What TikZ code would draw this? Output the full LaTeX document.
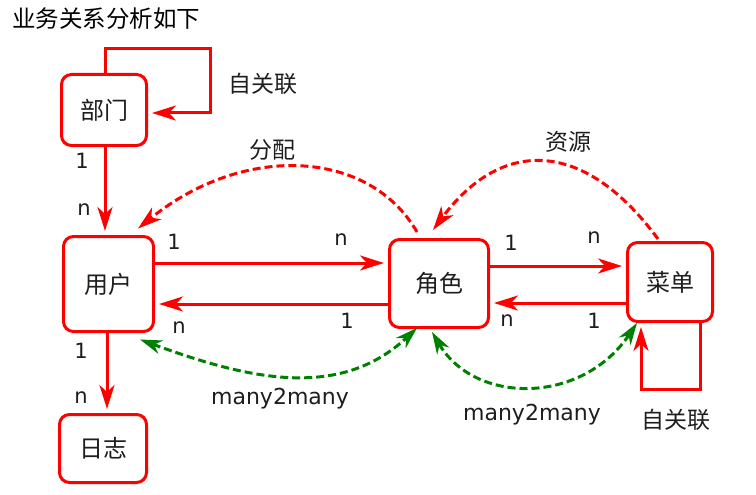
\documentclass[tikz,border=0pt]{standalone}
\usepackage{fontspec}
\setmainfont{DejaVu Sans}
\newfontfamily\cjk{Noto Sans CJK SC}
\usetikzlibrary{arrows.meta,calc}
\definecolor{lred}{RGB}{255,0,0}
\definecolor{lgreen}{RGB}{0,128,0}
\definecolor{txt}{RGB}{30,30,30}
\begin{document}
\begin{tikzpicture}[x=1pt,y=-1pt,
  ent/.style={draw=lred, line width=3pt, rounded corners=10pt, fill=white, text=txt,
    font=\cjk\fontsize{24}{28}\selectfont, inner sep=0pt},
  tip/.style={-{Stealth[length=24pt,width=15pt,inset=7pt]}},
  rel/.style={draw=lred, line width=3pt, tip, shorten >=4pt},
  relcurve/.style={draw=lred, line width=3pt, dash pattern=on 8pt off 4pt, tip},
  mm/.style={draw=lgreen, line width=3pt, dash pattern=on 8pt off 4pt,
    {Stealth[length=22pt,width=14pt,inset=7pt]}-{Stealth[length=22pt,width=14pt,inset=7pt]}},
  lab/.style={text=txt, font=\fontsize{21}{25}\selectfont, inner sep=0pt},
  mlab/.style={text=txt, font=\fontsize{22}{26}\selectfont, inner sep=0pt},
  clab/.style={text=txt, font=\cjk\fontsize{23}{27}\selectfont, inner sep=0pt}]
\fill[white] (0,0) rectangle (756,495);
\useasboundingbox (0,0) rectangle (756,495);

\node[anchor=west, font=\cjk\fontsize{23.5}{28}\selectfont, text=black, inner sep=0pt] (title) at (12,19) {业务关系分析如下};

\node[ent, minimum width=85pt, minimum height=71pt] (bm) at (104,110) {部门};
\node[ent, minimum width=90pt, minimum height=95pt] (yh) at (108.5,284) {用户};
\node[ent, minimum width=99pt, minimum height=88pt] (js) at (439,283.5) {角色};
\node[ent, minimum width=85pt, minimum height=79pt] (cd) at (670,282) {菜单};
\node[ent, minimum width=87pt, minimum height=68pt] (rz) at (103,448.5) {日志};

\coordinate (bmc) at (210,49);
\coordinate (cdc) at (641,389);

% 部门 self loop
\draw[rel] (bm.north -| 105,0) |- (bmc) |- ($(bm.east)+(0,3)$);
% 部门 -> 用户
\draw[rel] (bm.south -| 105,0) -- (yh.north -| 105,0);
% 用户 <-> 角色
\draw[rel] (yh.east |- 0,263) -- (js.west |- 0,263);
\draw[rel] (js.west |- 0,304) -- (yh.east |- 0,304);
% 角色 <-> 菜单
\draw[rel] (js.east |- 0,266) -- (cd.west |- 0,266);
\draw[rel] (cd.west |- 0,303) -- (js.east |- 0,303);
% 用户 -> 日志
\draw[rel] (yh.south -| 107,0) -- (rz.north -| 107,0);
% 菜单 self loop
\draw[rel] (cd.south -| 700,0) |- (cdc) -- (cdc |- cd.south);

% dashed red curves
\draw[relcurve] ($(js.north west)+(29,-6)$) .. controls (370,150) and (245,142) .. ($(yh.north east)+(-17,-6.5)$);
\draw[relcurve] ($(cd.north)+(-12,-2)$) .. controls (582,136) and (500,140) .. ($(js.north)+(-6,-8)$);

% green many2many
\draw[mm] ($(yh.south east)+(-15,6.5)$) .. controls (250,380) and (340,400) .. ($(js.south west)+(29,-1)$);
\draw[mm] ($(js.south)+(-7,3)$) .. controls (475,405) and (582,405) .. ($(cd.south west)+(11,0)$);

% labels
\node[clab] (l1) at (263,84) {自关联};
\node[clab] (l2) at (272,150) {分配};
\node[clab] (l3) at (568,142) {资源};
\node[clab] (l4) at (676,420) {自关联};
\node[mlab] (m1) at (280,399) {many2many};
\node[mlab] (m2) at (532,415) {many2many};

\node[lab] (c1) at (82,161) {1};
\node[lab] (c2) at (84,210) {n};
\node[lab] (c3) at (174,242) {1};
\node[lab] (c4) at (341,240) {n};
\node[lab] (c5) at (179,328) {n};
\node[lab] (c6) at (347,321) {1};
\node[lab] (c7) at (511,243) {1};
\node[lab] (c8) at (594,238) {n};
\node[lab] (c9) at (507,321) {n};
\node[lab] (c10) at (594,321) {1};
\node[lab] (c11) at (81,351) {1};
\node[lab] (c12) at (81,398) {n};
\end{tikzpicture}
\end{document}
